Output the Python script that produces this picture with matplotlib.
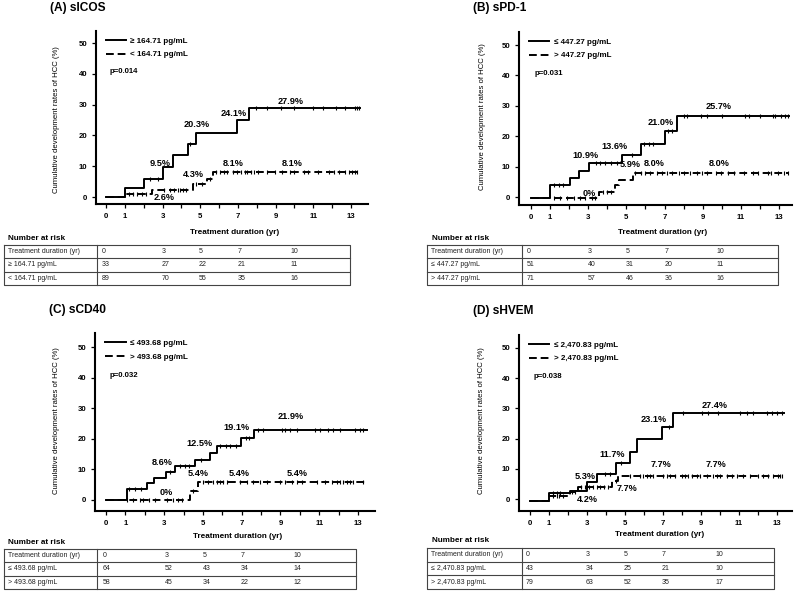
import matplotlib
matplotlib.use('Agg')
import matplotlib.pyplot as plt
import numpy as np

plt.rcParams['font.family'] = ['Liberation Sans', 'DejaVu Sans']

# ---------------- data ----------------
titles = ['(A) sICOS', '(B) sPD-1', '(C) sCD40', '(D) sHVEM']
group_labels = [
    ['≥ 164.71 pg/mL', '< 164.71 pg/mL'],
    ['≤ 447.27 pg/mL', '> 447.27 pg/mL'],
    ['≤ 493.68 pg/mL', '> 493.68 pg/mL'],
    ['≤ 2,470.83 pg/mL', '> 2,470.83 pg/mL'],
]
p_values = ['p=0.014', 'p=0.031', 'p=0.032', 'p=0.038']

# step curves: event times, cumulative rate (%), baseline, last follow-up
a_hi_t = [1.0, 2.04, 3.0, 3.57, 4.34, 4.76, 6.97, 7.61]
a_hi_y = [2.9, 6.0, 9.8, 13.5, 17.1, 20.9, 24.9, 28.9]
a_hi_cens = [2.35, 2.75, 4.45, 7.96, 8.53, 9.27, 9.95, 11.0, 11.5, 12.2, 12.7, 13.2, 13.3, 13.4]
a_lo_t = [1.0, 2.46, 4.64, 5.35, 5.66]
a_lo_y = [1.1, 2.4, 4.3, 6.0, 8.0]
a_lo_cens = [1.2, 1.45, 1.65, 1.9, 2.1, 3.1, 3.4, 3.6, 3.8, 3.95, 4.1, 4.25, 4.8, 5.1, 5.5,
             5.84, 6.05, 6.27, 6.41, 6.76, 6.97, 7.15, 7.35, 7.5, 7.68, 7.86, 8.09, 8.53, 8.97,
             9.33, 9.77, 9.95, 10.48, 10.74, 11.27, 11.81, 12.07, 12.34, 12.69, 12.87, 13.04,
             13.22, 13.31]

b_hi_t = [1.0, 2.05, 2.5, 3.03, 4.77, 5.74, 7.0, 7.63]
b_hi_y = [3.9, 6.1, 8.7, 11.2, 13.9, 17.4, 21.7, 26.5]
b_hi_cens = [1.2, 1.45, 1.7, 3.4, 3.6, 3.9, 4.2, 4.5, 5.3, 5.9, 6.2, 6.4, 7.2, 7.4, 8.0, 8.2,
             8.9, 9.2, 10.0, 11.2, 11.4, 12.0, 12.7, 12.8, 13.1, 13.3, 13.45]
b_lo_t = [3.58, 4.38, 4.6, 5.33]
b_lo_y = [1.6, 4.0, 5.7, 8.0]
b_lo_cens = [1.18, 1.53, 1.88, 2.23, 2.58, 2.84, 3.19, 3.37, 3.75, 4.0, 4.2, 5.47, 5.74, 6.0,
             6.26, 6.61, 6.88, 7.14, 7.4, 7.75, 8.0, 8.35, 8.7, 8.98, 9.25, 9.68, 9.95, 10.3,
             10.65, 11.18, 11.61, 11.88, 12.4, 12.58, 12.93, 13.28, 13.45]

c_hi_t = [1.07, 2.1, 2.48, 3.09, 3.57, 4.57, 5.38, 5.72, 6.97, 7.66]
c_hi_y = [3.6, 5.7, 7.3, 9.2, 11.2, 13.1, 15.3, 17.6, 20.2, 23.0]
c_hi_cens = [1.2, 1.5, 1.8, 3.3, 3.8, 4.1, 4.3, 4.9, 5.9, 6.2, 6.4, 6.7, 7.2, 7.4, 7.86, 8.12,
             9.07, 9.24, 9.49, 9.84, 10.78, 11.04, 11.47, 11.73, 12.07, 12.85, 13.1, 13.28]
c_lo_t = [4.33, 4.75]
c_lo_y = [2.9, 5.9]
c_lo_cens = [1.07, 1.41, 1.75, 1.92, 2.23, 2.53, 3.13, 3.47, 3.73, 3.9, 4.5, 5.02, 5.28, 5.54,
             5.71, 5.88, 6.05, 6.23, 6.91, 7.26, 7.6, 7.95, 8.29, 8.98, 9.24, 9.58, 9.84, 10.1,
             10.87, 11.3, 11.65, 11.9, 12.07, 12.25, 12.42, 12.59, 12.76, 13.28]

d_hi_t = [1.0, 2.1, 3.0, 3.5, 4.55, 5.26, 5.61, 6.93, 7.54]
d_hi_y = [1.9, 2.5, 5.5, 8.2, 12.0, 15.7, 19.8, 24.0, 28.4]
d_hi_cens = [1.2, 1.4, 1.6, 3.95, 4.2, 4.8, 7.3, 8.07, 9.04, 9.39, 9.91, 11.05, 11.4, 11.75,
             12.46, 12.72, 12.98, 13.25]
d_lo_t = [1.02, 2.1, 2.55, 4.3, 4.65]
d_lo_y = [1.0, 2.4, 3.9, 6.1, 7.7]
d_lo_cens = [1.2, 1.4, 1.55, 1.75, 2.2, 2.35, 2.7, 2.9, 3.1, 3.3, 3.5, 3.7, 3.9, 4.1, 4.5,
             5.26, 5.79, 5.96, 6.14, 6.32, 6.49, 7.02, 7.19, 7.37, 7.63, 7.98, 8.16, 8.33, 8.51,
             8.77, 8.95, 9.3, 9.65, 9.82, 10.0, 10.35, 10.61, 10.88, 11.23, 11.58, 12.02, 12.28,
             12.54, 12.81, 13.07, 13.16, 13.25]

curves = [
    [(a_hi_t, a_hi_y, a_hi_cens, 0.0, 13.5), (a_lo_t, a_lo_y, a_lo_cens, 0.0, 13.4)],
    [(b_hi_t, b_hi_y, b_hi_cens, -0.4, 13.54), (b_lo_t, b_lo_y, b_lo_cens, -0.4, 13.45)],
    [(c_hi_t, c_hi_y, c_hi_cens, 0.0, 13.48), (c_lo_t, c_lo_y, c_lo_cens, 0.0, 13.45)],
    [(d_hi_t, d_hi_y, d_hi_cens, -0.5, 13.37), (d_lo_t, d_lo_y, d_lo_cens, -0.5, 13.3)],
]

pct_labels = [
    ['9.5%', '2.6%', '20.3%', '4.3%', '24.1%', '8.1%', '27.9%', '8.1%'],
    ['10.9%', '0%', '13.6%', '5.9%', '21.0%', '8.0%', '25.7%', '8.0%'],
    ['8.6%', '0%', '12.5%', '5.4%', '19.1%', '5.4%', '21.9%', '5.4%'],
    ['5.3%', '4.2%', '11.7%', '7.7%', '23.1%', '7.7%', '27.4%', '7.7%'],
]
pct_pos = [
    [(2.87, 10.9), (3.1, -0.2), (4.81, 23.4), (4.64, 7.4), (6.8, 27.2), (6.76, 10.9), (9.82, 31.0), (9.88, 10.9)],
    [(2.84, 13.7), (3.07, 1.3), (4.37, 16.6), (5.2, 10.6), (6.82, 24.5), (6.44, 11.0), (9.86, 29.8), (9.86, 11.0)],
    [(2.91, 12.3), (3.09, 2.5), (4.81, 18.5), (4.74, 8.6), (6.71, 23.8), (6.88, 8.6), (9.55, 27.3), (9.86, 8.6)],
    [(2.89, 7.6), (3.04, -0.2), (4.35, 14.9), (5.09, 3.6), (6.53, 26.4), (6.88, 11.4), (9.74, 31.0), (9.79, 11.4)],
]

xticks = list(range(14))
xtick_labels = ['0', '1', '', '3', '', '5', '', '7', '', '9', '', '11', '', '13']
yticks = [0, 10, 20, 30, 40, 50]

risk_times = ['0', '3', '5', '7', '10']
risk_hi = [[33, 27, 22, 21, 11], [51, 40, 31, 20, 11], [64, 52, 43, 34, 14], [43, 34, 25, 21, 10]]
risk_lo = [[89, 70, 55, 35, 16], [71, 57, 46, 36, 16], [58, 45, 34, 22, 12], [79, 63, 52, 35, 17]]

# ---------------- layout (figure pixels) ----------------
W, H = 798, 591
# axes box: left, right, top, bottom ; xlim ; ylim
ax_box = [(96, 368, 31, 204), (519, 792, 32, 205), (95, 375, 333, 511), (519, 792, 335, 511)]
ax_xlim = [(-0.53, 13.9), (-0.63, 13.68), (-0.57, 13.88), (-0.58, 13.79)]
ax_ylim = [(-2.27, 53.9), (-2.63, 54.3), (-3.6, 54.6), (-3.97, 54.3)]
title_pos = [(50, 8), (473, 8), (49, 310), (473, 311)]
xlabel_pos = [(235, 233), (663, 233), (238, 537), (660, 535)]
ylabel_pos = [(57, 120), (482, 117), (57, 421), (481, 421)]
# table: left, right, top, bottom, divider, value column x
tab_box = [(4, 350, 245, 285, 97), (427, 778, 245, 285, 522), (4, 356, 549, 589, 97), (427, 774, 548, 589, 522)]
tab_cols = [[102, 162, 199, 238, 290], [527, 588, 626, 665, 716], [103, 165, 203, 241, 293], [526, 586, 624, 662, 715]]
nar_pos = [(8, 238), (432, 238), (8, 542), (432, 541)]

fig = plt.figure(figsize=(W / 100, H / 100), dpi=100)
over = fig.add_axes([0, 0, 1, 1])
over.set_xlim(0, W)
over.set_ylim(H, 0)
over.axis('off')


def level_at(times, vals, base, t):
    i = np.searchsorted(times, t, side='right')
    return base if i == 0 else vals[i - 1]


for k in range(4):
    l, r, t, b = ax_box[k]
    ax = fig.add_axes([l / W, 1 - b / H, (r - l) / W, (b - t) / H])
    handles = []
    for j, (tt, yy, cens, base, end) in enumerate(curves[k]):
        xs = [0] + tt + [end]
        ys = [base] + yy + [yy[-1]]
        ls = '-' if j == 0 else (0, (4, 2))
        h, = ax.plot(xs, ys, drawstyle='steps-post', color='black', lw=1.4, linestyle=ls,
                     label=group_labels[k][j], zorder=3 - j)
        handles.append(h)
        cy = [level_at(tt, yy, base, c) for c in cens]
        ax.plot(cens, cy, linestyle='none', marker='|', ms=3.2, mew=0.8, color='black')
    for s, (px, py) in zip(pct_labels[k], pct_pos[k]):
        ax.text(px, py, s, ha='center', va='center', fontsize=6.6, fontweight='bold')
    ax.text(0.2, 40.6, p_values[k], fontsize=5.6, fontweight='bold', va='center')
    ax.legend(handles=handles, loc='upper left', bbox_to_anchor=(0.035, 0.965), frameon=False,
              prop={'size': 5.8, 'weight': 'bold'}, handlelength=2.6, handletextpad=0.5,
              labelspacing=0.75, borderpad=0, borderaxespad=0)
    ax.set_xlim(*ax_xlim[k])
    ax.set_ylim(*ax_ylim[k])
    ax.set_xticks(xticks)
    ax.set_xticklabels(xtick_labels)
    ax.set_yticks(yticks)
    for sp in ['top', 'right']:
        ax.spines[sp].set_visible(False)
    for sp in ['left', 'bottom']:
        ax.spines[sp].set_linewidth(1.5)
    ax.tick_params(direction='out', length=3.2, width=0.9, labelsize=5.6, pad=3)
    for lab in ax.get_xticklabels() + ax.get_yticklabels():
        lab.set_fontweight('bold')
    ax.set_xlabel('Treatment duration (yr)', fontsize=5.9, fontweight='bold', va='center')
    ax.xaxis.set_label_coords(xlabel_pos[k][0] / W, 1 - xlabel_pos[k][1] / H, transform=fig.transFigure)
    ax.set_ylabel('Cumulative development rates of HCC (%)', fontsize=5.6, va='center')
    ax.yaxis.set_label_coords(ylabel_pos[k][0] / W, 1 - ylabel_pos[k][1] / H, transform=fig.transFigure)

    # title and risk table on the overlay
    over.text(title_pos[k][0], title_pos[k][1], titles[k], fontsize=8.6, fontweight='bold', va='center')
    over.text(nar_pos[k][0], nar_pos[k][1], 'Number at risk', fontsize=5.9, fontweight='bold', va='center')
    tl, tr, tt_, tb, dv = tab_box[k]
    rh = (tb - tt_) / 3
    lc = '#444444'
    over.plot([tl, tr, tr, tl, tl], [tt_, tt_, tb, tb, tt_], color=lc, lw=0.8)
    for i in (1, 2):
        over.plot([tl, tr], [tt_ + i * rh, tt_ + i * rh], color=lc, lw=0.8)
    over.plot([dv, dv], [tt_, tb], color=lc, lw=0.8)
    rows = [['Treatment duration (yr)'] + risk_times,
            [group_labels[k][0]] + [str(v) for v in risk_hi[k]],
            [group_labels[k][1]] + [str(v) for v in risk_lo[k]]]
    for i, row in enumerate(rows):
        yc = tt_ + (i + 0.5) * rh
        over.text(tl + 4, yc, row[0], fontsize=5.0, va='center', color='#222222')
        for cx, v in zip(tab_cols[k], row[1:]):
            over.text(cx, yc, v, fontsize=5.0, va='center', color='#222222')

fig.savefig('out.png', dpi=100)
